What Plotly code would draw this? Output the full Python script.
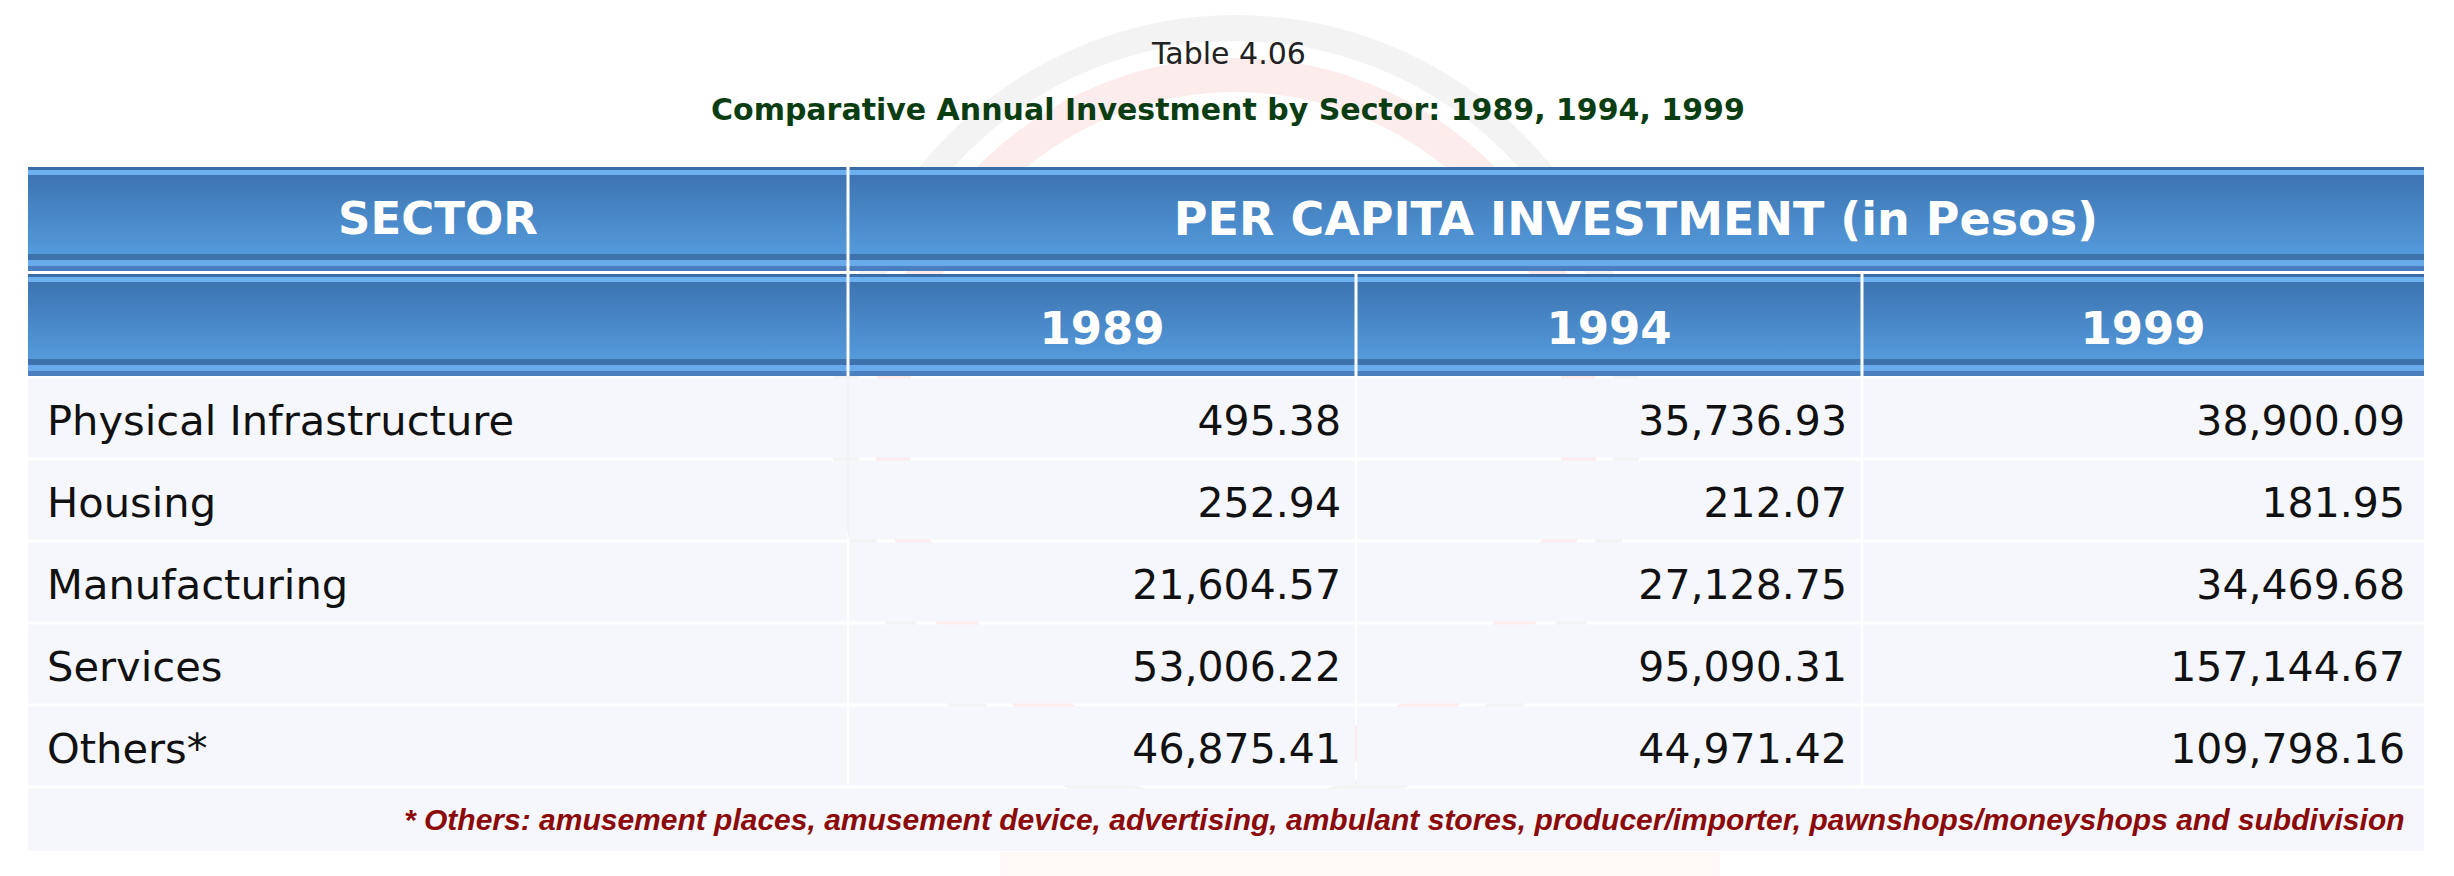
import plotly.graph_objects as go

# ---------------- data ----------------
sectors = ["Physical Infrastructure", "Housing", "Manufacturing", "Services", "Others*"]
years = ["1989", "1994", "1999"]
inv_1989 = [495.38, 252.94, 21604.57, 53006.22, 46875.41]
inv_1994 = [35736.93, 212.07, 27128.75, 95090.31, 44971.42]
inv_1999 = [38900.09, 181.95, 34469.68, 157144.67, 109798.16]
header_sector = "SECTOR"
header_group = "PER CAPITA INVESTMENT (in Pesos)"
table_no = "Table 4.06"
table_title = "Comparative Annual Investment by Sector: 1989, 1994, 1999"
footnote = ("* Others: amusement places, amusement device, advertising, ambulant stores, "
            "producer/importer, pawnshops/moneyshops and subdivision")

# ---------------- layout constants ----------------
W, H = 2454, 876
OFF = 8  # page body margin; axes map data units to page pixels
col_edges = [28, 848, 1356, 1862, 2424]
num_pad = [15, 15, 19]
hdr1 = (167, 271)
hdr2 = (274, 376)
body_top, row_h = 377, 82.0
foot = (787, 851)
cell_bg = "#f5f7fc"
FONT = "DejaVu Sans"

fig = go.Figure()
shapes = []

# faint watermark
cx, cy = 1236, 420
for r, col, w in [(392, "rgba(225,225,225,0.40)", 26), (345, "rgba(240,150,150,0.18)", 34)]:
    shapes.append(dict(type="circle", xref="x", yref="y", x0=cx - r, x1=cx + r, y0=cy - r, y1=cy + r,
                       line=dict(color=col, width=w), layer="below"))
shapes.append(dict(type="rect", xref="x", yref="y", x0=1000, x1=1720, y0=852, y1=880,
                   fillcolor="rgba(245,205,195,0.14)", line=dict(width=0), layer="below"))


def rect(x0, x1, y0, y1, color):
    shapes.append(dict(type="rect", xref="x", yref="y", x0=x0, x1=x1, y0=y0, y1=y1,
                       fillcolor=color, line=dict(width=0), layer="below"))


def header_band(x0, x1, t, b):
    rect(x0, x1, t, t + 3, "#3a6ca6")
    rect(x0, x1, t + 3, t + 8, "#6cb0f0")
    rect(x0, x1, b - 17, b - 11, "#3e72ad")
    rect(x0, x1, b - 11, b - 5, "#68aaec")
    rect(x0, x1, b - 5, b, "#4a7fbf")
    gt, gb = t + 8, b - 17
    fig.add_trace(go.Scatter(
        x=[x0, x1, x1, x0, x0], y=[gt, gt, gb, gb, gt], mode="lines", fill="toself",
        fillgradient=dict(type="vertical", start=gt, stop=gb,
                          colorscale=[[0, "#3d74b1"], [1, "#549adb"]]),
        line=dict(width=0), hoverinfo="skip", showlegend=False))


header_band(col_edges[0], col_edges[-1], *hdr1)
header_band(col_edges[0], col_edges[-1], *hdr2)

# body cells
n = len(sectors)
for i in range(n):
    t = body_top + i * row_h
    for j in range(4):
        rect(col_edges[j] + (1 if j else 0), col_edges[j + 1] - (1 if j < 3 else 0),
             t + 1.5, t + row_h - 1.5, cell_bg)
rect(col_edges[0], col_edges[-1], foot[0] + 1.5, foot[1], cell_bg)

# white dividers in header
for x in [col_edges[1]]:
    shapes.append(dict(type="line", xref="x", yref="y", x0=x, x1=x, y0=hdr1[0], y1=hdr2[1],
                       line=dict(color="white", width=3)))
for x in col_edges[2:4]:
    shapes.append(dict(type="line", xref="x", yref="y", x0=x, x1=x, y0=hdr2[0], y1=hdr2[1],
                       line=dict(color="white", width=3)))

# ---------------- text traces ----------------
row_text_y = [body_top + (i + 0.5) * row_h + 7 for i in range(n)]
hdr1_y = (hdr1[0] + hdr1[1]) / 2 + 4
hdr2_y = (hdr2[0] + hdr2[1]) / 2 + 8

fig.add_trace(go.Scatter(
    x=[col_edges[0] + 19] * n, y=row_text_y, text=sectors, mode="text",
    textposition="middle right", textfont=dict(family=FONT, size=41.6, color="#111111"),
    hoverinfo="skip", showlegend=False))

for j, vals in enumerate([inv_1989, inv_1994, inv_1999]):
    fig.add_trace(go.Scatter(
        x=[col_edges[j + 2] - num_pad[j]] * n, y=row_text_y, text=[f"{v:,.2f}" for v in vals],
        mode="text", textposition="middle left",
        textfont=dict(family=FONT, size=41, color="#111111"),
        hoverinfo="skip", showlegend=False))

fig.add_trace(go.Scatter(
    x=[(col_edges[0] + col_edges[1]) / 2], y=[hdr1_y],
    text=[header_sector], mode="text", textposition="middle center",
    textfont=dict(family=FONT, size=45, color="white", weight="bold"),
    hoverinfo="skip", showlegend=False))
fig.add_trace(go.Scatter(
    x=[(col_edges[1] + col_edges[4]) / 2], y=[hdr1_y],
    text=[header_group], mode="text", textposition="middle center",
    textfont=dict(family=FONT, size=46, color="white", weight="bold"),
    hoverinfo="skip", showlegend=False))
fig.add_trace(go.Scatter(
    x=[(col_edges[k] + col_edges[k + 1]) / 2 for k in range(1, 4)],
    y=[hdr2_y] * 3, text=years, mode="text",
    textposition="middle center",
    textfont=dict(family=FONT, size=45, color="white", weight="bold"),
    hoverinfo="skip", showlegend=False))

annotations = [
    dict(x=1228, y=53, xref="x", yref="y", text=table_no, showarrow=False,
         font=dict(family=FONT, size=30, color="#222222")),
    dict(x=1228, y=109, xref="x", yref="y", text=table_title, showarrow=False,
         font=dict(family=FONT, size=30, color="#0a3d12", weight="bold")),
    dict(x=2407, y=(foot[0] + foot[1]) / 2, xref="x", yref="y", text=footnote, showarrow=False,
         xanchor="right", font=dict(family="Liberation Sans", size=30, color="#8b0a0a",
                                    weight="bold", style="italic")),
]

fig.update_layout(
    width=W, height=H, margin=dict(l=0, r=0, t=0, b=0),
    paper_bgcolor="white", plot_bgcolor="white",
    xaxis=dict(range=[OFF, W + OFF], visible=False, fixedrange=True),
    yaxis=dict(range=[H + OFF, OFF], visible=False, fixedrange=True),
    shapes=shapes, annotations=annotations, showlegend=False,
)

fig.write_html("out.html", config={"displayModeBar": False})
